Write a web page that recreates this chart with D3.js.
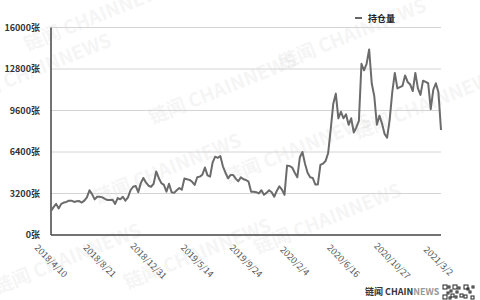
<!DOCTYPE html>
<html>
<head>
<meta charset="utf-8">
<script src="https://cdn.jsdelivr.net/npm/d3@7"></script>
<style>
  body { margin:0; background:#fff; }
  svg { font-family:"Noto Sans CJK SC","Noto Sans",sans-serif; }
</style>
</head>
<body>
<svg id="chart" width="480" height="300"></svg>
<script>
//weekly series (tuesdays), first week 2018/4/10
var startDate = "2018/4/10";
var holdings = [1850,2150,2400,2050,2400,2500,2550,2650,2650,2550,2600,2620,2500,2650,2900,3450,3150,2750,2950,2950,
  2900,2780,2700,2700,2720,2400,2850,2750,2950,2640,2900,3450,3720,3780,3300,4000,4400,4050,3800,3720,
  3950,4900,4400,4000,3860,3340,3950,3300,3250,3450,3620,3500,4350,4300,4250,4100,3860,4450,4500,4650,
  5200,4600,4500,5600,6040,5950,6090,5300,4800,4370,4630,4630,4350,4150,4450,4300,4240,4110,3340,3340,
  3300,3210,3450,3100,3250,3450,3300,2950,3400,3750,3500,3100,5350,5320,5200,4800,4450,6000,6400,5500,
  4800,4450,4400,3900,3900,5400,5500,5700,6300,8100,10100,10900,9000,9500,9000,9300,8500,9000,7900,8300,
  8800,13200,12700,13200,14300,11700,10700,8500,9200,8600,7800,7500,8900,11000,12500,11300,11400,11500,12300,11800,
  11600,11100,12500,11300,10800,11900,11800,11700,9700,11200,11700,11000,8100];
var tickLabels = ["2018/4/10","2018/8/21","2018/12/31","2019/5/14","2019/9/24","2020/2/4","2020/6/16","2020/10/27","2021/3/2"];
var yTicks = [0,3200,6400,9600,12800,16000];
var seriesName = "持仓量";

var fmt = d3.timeFormat("%Y/%-m/%-d"), t0 = d3.timeParse("%Y/%-m/%-d")(startDate);
var dates = holdings.map(function(v,i){
  var s = fmt(d3.timeDay.offset(t0, 7*i));
  return s=="2019/1/1" ? "2018/12/31" : s;   //holiday week reported a day early
});

var svg = d3.select("#chart");
var L = 51, R = 441, T = 27.5, B = 235;

var x = d3.scalePoint().domain(dates).range([L,R]);
var y = d3.scaleLinear().domain([0,16000]).range([B,T]);

//watermarks
var marks = [[100,22],[225,95],[355,40],[40,75],[170,175],[300,155],[430,110],[70,265],[200,260],[330,225]];
svg.append("g").selectAll("text").data(marks).enter().append("text")
  .attr("transform", function(d){ return "translate("+d[0]+","+d[1]+") rotate(-22)"; })
  .attr("text-anchor","middle")
  .style("font-size","19px").style("font-weight","bold")
  .style("fill","#000").style("opacity",0.035)
  .text("链闻 CHAINNEWS");

//grid
svg.append("g").selectAll("line").data(yTicks.slice(1)).enter().append("line")
  .attr("x1",L).attr("x2",R)
  .attr("y1",function(d){ return y(d); }).attr("y2",function(d){ return y(d); })
  .style("stroke","#d4d4d4").style("stroke-width",1);

//y labels
svg.append("g").selectAll("text").data(yTicks).enter().append("text")
  .attr("x",40).attr("y",function(d){ return y(d)+3; })
  .attr("text-anchor","end")
  .style("font-size","9px").style("font-weight","bold").style("fill","#333")
  .text(function(d){ return d+"张"; });

//axes
svg.append("line").attr("x1",L).attr("x2",L).attr("y1",T).attr("y2",B)
  .style("stroke","#444").style("stroke-width",1.5);
svg.append("line").attr("x1",L).attr("x2",R).attr("y1",B).attr("y2",B)
  .style("stroke","#444").style("stroke-width",1.5);

//x labels
svg.append("g").selectAll("text").data(tickLabels).enter().append("text")
  .attr("transform", function(d){ return "translate("+x(d)+",261) rotate(45)"; })
  .attr("text-anchor","middle").attr("dy","0.35em")
  .style("font-size","9px").style("fill","#555")
  .text(function(d){ return d; });

//line
var line = d3.line()
  .x(function(d,i){ return x(dates[i]); })
  .y(function(d){ return y(d); });
svg.append("path").datum(holdings)
  .attr("d", line)
  .style("fill","none").style("stroke","#6b6b6b").style("stroke-width",2).style("stroke-linejoin","round");

//legend
svg.append("line").attr("x1",355).attr("x2",362).attr("y1",18).attr("y2",18)
  .style("stroke","#333").style("stroke-width",1.5);
svg.append("text").attr("x",368).attr("y",21.5)
  .style("font-size","9px").style("font-weight","bold").style("fill","#222")
  .text(seriesName);

//footer logo
var logo = svg.append("text").attr("x",365).attr("y",295)
  .style("font-size","9px").style("font-weight","bold");
logo.append("tspan").style("fill","#333").text("链闻 CHAIN");
logo.append("tspan").style("fill","#999").text("NEWS");

//qr-ish mark
var qr = svg.append("g").attr("transform","translate(443,285)");
var cells = [[0,0,4],[10,0,4],[0,10,4],[5,1,2],[7,5,2],[4,7,2],[13,6,2],[8,9,3],[12,11,2],[6,12,2],[15,2,2],[17,9,3],[21,0,4],[21,10,3],[26,6,2],[29,1,2],[28,11,3],[24,3,2]];
cells.forEach(function(c){
  qr.append("rect").attr("x",c[0]).attr("y",c[1]).attr("width",c[2]).attr("height",c[2])
    .style("fill","none").style("stroke","#222").style("stroke-width",1);
});
</script>
</body>
</html>
